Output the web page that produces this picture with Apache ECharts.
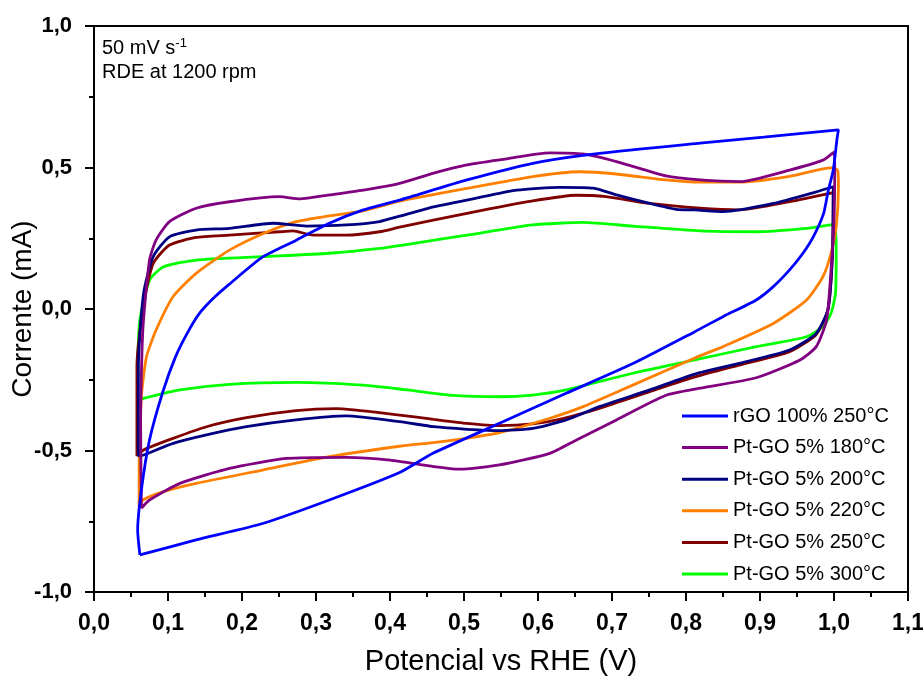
<!DOCTYPE html>
<html>
<head>
<meta charset="utf-8">
<script src="https://cdn.jsdelivr.net/npm/echarts@6/dist/echarts.min.js"></script>
<style>
html,body{margin:0;padding:0;background:#fff;}
#chart{width:923px;height:677px;}
</style>
</head>
<body>
<div id="chart"></div>
<script>
const seriesNames = ['rGO 100% 250°C','Pt-GO 5% 180°C','Pt-GO 5% 200°C','Pt-GO 5% 220°C','Pt-GO 5% 250°C','Pt-GO 5% 300°C'];
const seriesColors = ['#0000FF','#800080','#000080','#FF8000','#800000','#00FF00'];

const rgo250 = [[0.062,-0.869],[0.138,-0.816],[0.229,-0.757],[0.318,-0.675],[0.413,-0.578],[0.458,-0.510],[0.548,-0.404],[0.638,-0.298],[0.729,-0.192],[0.812,-0.080],[0.850,-0.027],[0.895,0.032],[0.918,0.079],[0.940,0.138],[0.958,0.197],[0.972,0.255],[0.986,0.338],[0.992,0.415],[0.999,0.491],[1.004,0.600],[1.006,0.633],[0.905,0.607],[0.819,0.586],[0.683,0.550],[0.593,0.515],[0.504,0.456],[0.413,0.385],[0.364,0.350],[0.318,0.303],[0.274,0.244],[0.228,0.184],[0.183,0.088],[0.163,0.042],[0.143,-0.014],[0.127,-0.081],[0.110,-0.170],[0.093,-0.293],[0.075,-0.463],[0.064,-0.640],[0.059,-0.781],[0.062,-0.869]];

const ptgo180 = [[0.064,-0.704],[0.075,-0.675],[0.116,-0.616],[0.183,-0.563],[0.260,-0.528],[0.341,-0.524],[0.400,-0.534],[0.459,-0.557],[0.494,-0.566],[0.548,-0.551],[0.616,-0.510],[0.652,-0.463],[0.706,-0.392],[0.773,-0.305],[0.819,-0.280],[0.895,-0.243],[0.954,-0.180],[0.976,-0.133],[0.990,-0.039],[0.996,0.138],[1.000,0.314],[1.001,0.491],[1.000,0.554],[0.986,0.527],[0.940,0.491],[0.873,0.450],[0.819,0.456],[0.773,0.470],[0.706,0.521],[0.661,0.548],[0.616,0.552],[0.548,0.527],[0.504,0.509],[0.459,0.480],[0.413,0.444],[0.364,0.420],[0.318,0.403],[0.278,0.389],[0.251,0.397],[0.183,0.379],[0.138,0.356],[0.102,0.309],[0.084,0.244],[0.075,0.173],[0.066,-0.074],[0.063,-0.400],[0.064,-0.704]];

const ptgo200 = [[0.060,-0.520],[0.067,-0.516],[0.107,-0.475],[0.152,-0.445],[0.206,-0.416],[0.273,-0.392],[0.341,-0.378],[0.413,-0.398],[0.459,-0.416],[0.504,-0.425],[0.548,-0.430],[0.593,-0.422],[0.638,-0.392],[0.683,-0.345],[0.751,-0.286],[0.812,-0.230],[0.872,-0.192],[0.940,-0.145],[0.976,-0.086],[0.992,0.000],[0.998,0.200],[0.999,0.432],[0.976,0.414],[0.918,0.373],[0.850,0.344],[0.812,0.350],[0.787,0.352],[0.751,0.373],[0.706,0.403],[0.675,0.427],[0.629,0.430],[0.571,0.420],[0.526,0.397],[0.459,0.361],[0.413,0.328],[0.386,0.309],[0.341,0.297],[0.287,0.293],[0.242,0.303],[0.183,0.285],[0.138,0.279],[0.102,0.255],[0.080,0.185],[0.067,0.055],[0.060,-0.200],[0.060,-0.520]];

const ptgo220 = [[0.061,-0.698],[0.066,-0.675],[0.093,-0.646],[0.138,-0.616],[0.228,-0.569],[0.318,-0.522],[0.413,-0.485],[0.458,-0.472],[0.503,-0.457],[0.548,-0.437],[0.616,-0.386],[0.661,-0.345],[0.728,-0.269],[0.812,-0.173],[0.850,-0.133],[0.918,-0.051],[0.963,0.032],[0.985,0.114],[0.996,0.197],[1.003,0.291],[1.006,0.432],[1.005,0.490],[0.996,0.499],[0.940,0.469],[0.872,0.448],[0.819,0.448],[0.773,0.456],[0.706,0.477],[0.656,0.485],[0.593,0.468],[0.504,0.426],[0.413,0.381],[0.364,0.347],[0.318,0.329],[0.273,0.309],[0.229,0.267],[0.183,0.208],[0.138,0.126],[0.107,0.044],[0.084,-0.074],[0.071,-0.168],[0.064,-0.310],[0.061,-0.545],[0.061,-0.698]];

const ptgo250 = [[0.058,-0.520],[0.067,-0.498],[0.107,-0.457],[0.152,-0.416],[0.206,-0.384],[0.273,-0.359],[0.327,-0.352],[0.413,-0.375],[0.459,-0.390],[0.504,-0.404],[0.548,-0.412],[0.593,-0.406],[0.629,-0.390],[0.683,-0.351],[0.751,-0.292],[0.812,-0.240],[0.872,-0.198],[0.940,-0.151],[0.976,-0.090],[0.992,0.000],[0.998,0.200],[0.999,0.411],[0.940,0.379],[0.872,0.350],[0.819,0.356],[0.751,0.373],[0.692,0.397],[0.652,0.402],[0.593,0.382],[0.504,0.338],[0.413,0.289],[0.386,0.273],[0.341,0.261],[0.296,0.261],[0.269,0.276],[0.251,0.273],[0.183,0.261],[0.138,0.253],[0.102,0.226],[0.080,0.161],[0.067,0.020],[0.058,-0.200],[0.058,-0.520]];

const ptgo300 = [[0.059,-0.325],[0.067,-0.316],[0.116,-0.286],[0.183,-0.266],[0.274,-0.259],[0.364,-0.269],[0.420,-0.285],[0.480,-0.304],[0.548,-0.310],[0.593,-0.304],[0.638,-0.286],[0.728,-0.227],[0.812,-0.180],[0.895,-0.133],[0.963,-0.098],[0.985,-0.062],[0.996,-0.015],[1.002,0.055],[1.003,0.197],[1.001,0.299],[0.963,0.285],[0.895,0.273],[0.819,0.276],[0.728,0.293],[0.661,0.306],[0.593,0.297],[0.504,0.261],[0.420,0.227],[0.386,0.214],[0.318,0.197],[0.228,0.185],[0.138,0.173],[0.094,0.149],[0.075,0.102],[0.062,-0.039],[0.059,-0.200],[0.059,-0.325]];

const seriesData = [rgo250, ptgo180, ptgo200, ptgo220, ptgo250, ptgo300];

const FONT = 'Liberation Sans, Arial, sans-serif';
const fmt = v => v.toFixed(1).replace('.', ',');

const chart = echarts.init(document.getElementById('chart'), null, {renderer: 'canvas'});
const axisCommon = {
  type: 'value',
  splitLine: {show: false},
  axisLine: {show: true, onZero: false, lineStyle: {color: '#000', width: 2}},
  axisTick: {show: true, inside: false, length: 9, lineStyle: {color: '#000', width: 2}},
  minorTick: {show: true, splitNumber: 2, length: 5, lineStyle: {color: '#000', width: 2}},
  axisLabel: {color: '#000', fontSize: 22, fontWeight: 'bold', fontFamily: FONT, formatter: fmt},
  nameLocation: 'middle',
  nameTextStyle: {color: '#000', fontSize: 28, fontFamily: FONT}
};
chart.setOption({
  animation: false,
  backgroundColor: '#fff',
  grid: {left: 94, right: 15, top: 26, bottom: 85, show: true, borderColor: '#000', borderWidth: 2, containLabel: false, outerBoundsMode: 'none'},
  xAxis: Object.assign({}, axisCommon, {
    min: 0, max: 1.1, interval: 0.1,
    name: 'Potencial vs RHE (V)', nameGap: 55,
    nameTextStyle: {color: '#000', fontSize: 29, fontFamily: FONT},
    axisLabel: Object.assign({}, axisCommon.axisLabel, {margin: 20, fontSize: 23})
  }),
  yAxis: Object.assign({}, axisCommon, {
    min: -1, max: 1, interval: 0.5,
    name: 'Corrente (mA)', nameGap: 57, nameMoveOverlap: false,
    axisLabel: Object.assign({}, axisCommon.axisLabel, {margin: 22})
  }),
  legend: {
    data: seriesNames.map(n => ({name: n, icon: 'rect'})),
    orient: 'vertical',
    left: 677, top: 401,
    itemWidth: 46, itemHeight: 3, itemGap: 11.6,
    textStyle: {color: '#000', fontSize: 20, fontFamily: FONT, lineHeight: 20}
  },
  graphic: [
    {type: 'text', left: 102, top: 37, style: {
      text: '{a|50 mV s}{b|-1}',
      rich: {a: {fontSize: 20, fontFamily: FONT, fill: '#000', lineHeight: 22}, b: {fontSize: 13, fontFamily: FONT, fill: '#000', verticalAlign: 'top', lineHeight: 22, padding: [0,0,8,0]}}
    }},
    {type: 'text', left: 102, top: 62, style: {text: 'RDE at 1200 rpm', fontSize: 20, fontFamily: FONT, fill: '#000'}}
  ],
  series: seriesNames.map((n, i) => ({
    name: n, type: 'line', data: seriesData[i],
    symbol: 'none', showSymbol: false, smooth: 0.2,
    lineStyle: {color: seriesColors[i], width: 2.8},
    itemStyle: {color: seriesColors[i]},
    z: 2 + (5 - i)
  }))
});
</script>
</body>
</html>
